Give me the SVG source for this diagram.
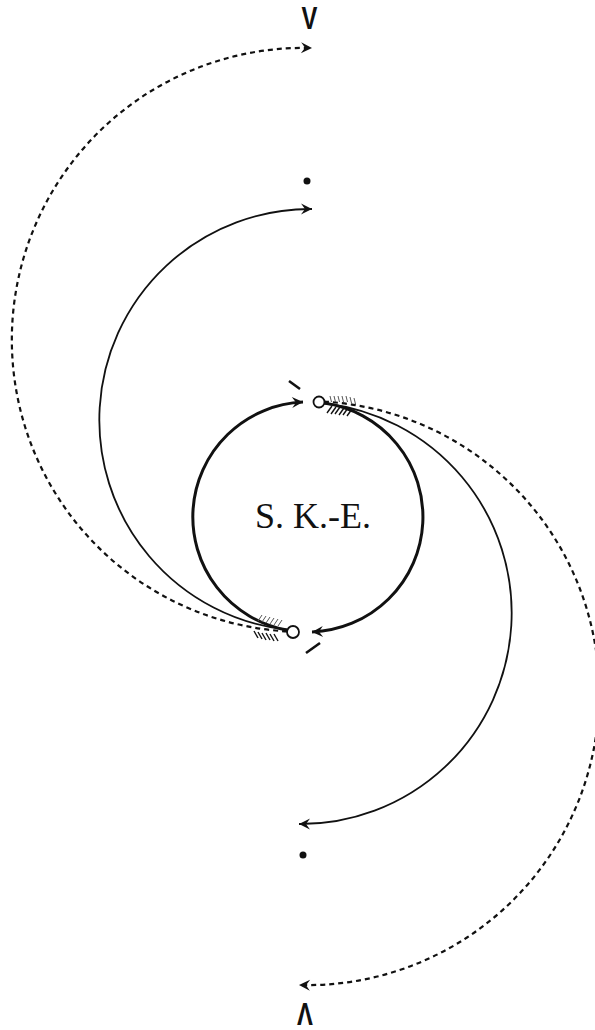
<svg xmlns="http://www.w3.org/2000/svg" width="595" height="1030" viewBox="0 0 595 1030">
<style>
.thin{fill:none;stroke:#111;stroke-width:1.8}
.thick{fill:none;stroke:#111;stroke-width:3}
.dash{fill:none;stroke:#111;stroke-width:2.2;stroke-dasharray:5 4}
.hl{stroke:#555;stroke-width:1}
.hd{stroke:#111;stroke-width:1.4}
.lbl{font-family:"Liberation Sans",Arial,sans-serif;font-size:28px;font-weight:bold;fill:#111}
.ske{font-family:"Liberation Serif","Times New Roman",serif;font-size:36px;fill:#111}
</style>
<defs>
<marker id="ah" viewBox="-12 -6 14 12" refX="0" refY="0" markerWidth="14" markerHeight="12" orient="auto" markerUnits="userSpaceOnUse">
<path d="M0,0 L-11,-5.5 L-7,0 L-11,5.5 Z" fill="#111"/>
</marker>
</defs>
<rect width="595" height="1030" fill="#fff"/>
<g id="connectors">
<path class="thick" d="M287,630.1 A115,115 0 0 1 303,402.1" marker-end="url(#ah)"/>
<path class="thick" d="M324,403.1 A115,115 0 0 1 312,631.9" marker-end="url(#ah)"/>
<path class="thin" d="M287,629.7 A211,211 0 0 1 312,209" marker-end="url(#ah)"/>
<path class="dash" d="M287,631.4 A292,292 0 0 1 312,48" marker-end="url(#ah)"/>
<path class="thin" d="M324,403.3 A211,211 0 0 1 299,824" marker-end="url(#ah)"/>
<path class="dash" d="M324,401.6 A292,292 0 0 1 299,985" marker-end="url(#ah)"/>
</g>
<g id="node-ske">
<text class="ske" x="313" y="528" text-anchor="middle">S. K.-E.</text>
</g>
<g id="node-top-pole">
<circle cx="319" cy="402" r="5.5" fill="#fff" stroke="#111" stroke-width="1.8"/>
<line x1="289" y1="381" x2="300" y2="389" stroke="#111" stroke-width="2.6"/>
<g class="hl">
<line x1="330" y1="396" x2="331.5" y2="402"/><line x1="334" y1="396" x2="335.5" y2="402"/><line x1="338" y1="396" x2="339.5" y2="402"/><line x1="342" y1="396" x2="343.5" y2="402"/><line x1="346" y1="396" x2="347.5" y2="402"/><line x1="350" y1="397" x2="351.5" y2="403"/><line x1="354" y1="398" x2="355.5" y2="404"/>
</g>
<g class="hd">
<line x1="327" y1="413" x2="332" y2="406"/><line x1="331" y1="414" x2="336" y2="407"/><line x1="335" y1="414" x2="340" y2="407"/><line x1="339" y1="415" x2="344" y2="408"/><line x1="343" y1="415" x2="348" y2="408"/><line x1="347" y1="416" x2="352" y2="409"/>
</g>
</g>
<g id="node-bottom-pole">
<circle cx="293" cy="632" r="6" fill="#fff" stroke="#111" stroke-width="1.8"/>
<line x1="306" y1="653" x2="320" y2="643" stroke="#111" stroke-width="2.6"/>
<g class="hl">
<line x1="258" y1="621" x2="262" y2="615"/><line x1="262" y1="622" x2="266" y2="616"/><line x1="266" y1="623" x2="270" y2="617"/><line x1="270" y1="624" x2="274" y2="618"/><line x1="274" y1="625" x2="278" y2="619"/><line x1="278" y1="626" x2="282" y2="620"/>
</g>
<g class="hd">
<line x1="254" y1="631" x2="258" y2="638"/><line x1="258" y1="632" x2="262" y2="639"/><line x1="262" y1="633" x2="266" y2="640"/><line x1="266" y1="633" x2="270" y2="640"/><line x1="270" y1="634" x2="274" y2="641"/><line x1="274" y1="634" x2="278" y2="641"/>
</g>
</g>
<g id="node-dot-top"><circle cx="307" cy="181" r="3.5" fill="#111"/></g>
<g id="node-dot-bottom"><circle cx="303" cy="855" r="3.5" fill="#111"/></g>
<g id="node-label-top"><text class="lbl" transform="translate(309.5,28.5) scale(0.85,1.1)" text-anchor="middle">V</text></g>
<g id="node-label-bottom"><text class="lbl" transform="translate(305,1025) scale(0.85,1.1)" text-anchor="middle">Λ</text></g>
</svg>
